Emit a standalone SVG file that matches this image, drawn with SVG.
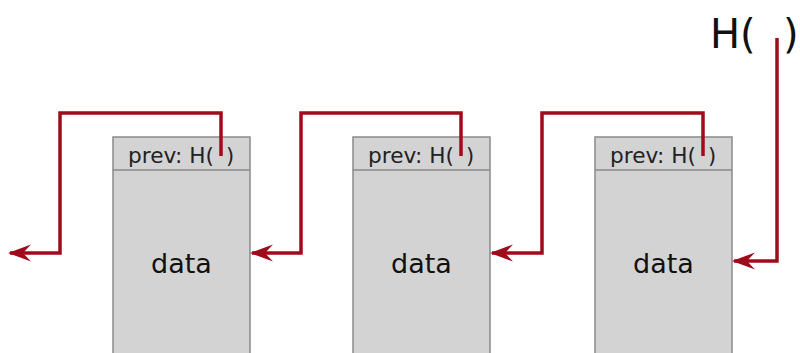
<svg xmlns="http://www.w3.org/2000/svg" width="800" height="353" viewBox="0 0 800 353">
<defs>
<marker id="ah" viewBox="0 0 24 20" refX="22" refY="10" markerWidth="24" markerHeight="20" markerUnits="userSpaceOnUse" orient="auto">
<path d="M24,10 L1,1.5 L9,10 L1,18.5 Z" fill="#9e0c1c"/>
</marker>
</defs>
<style>
.box{fill:#d3d3d3;stroke:#8a8a8a;stroke-width:1.5}
.hd{font-family:"DejaVu Sans",sans-serif;font-size:21px;fill:#222}
.dt{font-family:"DejaVu Sans",sans-serif;font-size:27px;fill:#111;text-anchor:middle}
.c{fill:none;stroke:#9e0c1c;stroke-width:3.5;stroke-linejoin:miter}
</style>
<rect width="800" height="353" fill="#fff"/>
<g id="block1">
<rect class="box" x="113" y="137" width="137" height="230"/>
<line x1="113" y1="170" x2="250" y2="170" stroke="#8a8a8a" stroke-width="1.5"/>
<text class="hd" x="128" y="163" textLength="86" lengthAdjust="spacingAndGlyphs">prev: H(</text>
<text class="hd" x="226" y="163">)</text>
<text class="dt" x="181.5" y="273">data</text>
</g>
<g id="block2">
<rect class="box" x="353" y="137" width="137" height="230"/>
<line x1="353" y1="170" x2="490" y2="170" stroke="#8a8a8a" stroke-width="1.5"/>
<text class="hd" x="368" y="163" textLength="86" lengthAdjust="spacingAndGlyphs">prev: H(</text>
<text class="hd" x="466" y="163">)</text>
<text class="dt" x="421.5" y="273">data</text>
</g>
<g id="block3">
<rect class="box" x="595" y="137" width="137" height="230"/>
<line x1="595" y1="170" x2="732" y2="170" stroke="#8a8a8a" stroke-width="1.5"/>
<text class="hd" x="610" y="163" textLength="86" lengthAdjust="spacingAndGlyphs">prev: H(</text>
<text class="hd" x="708" y="163">)</text>
<text class="dt" x="663.5" y="273">data</text>
</g>
<g id="head">
<text x="710" y="48" font-family="DejaVu Sans, sans-serif" font-size="40" fill="#111">H(</text>
<text x="783" y="48" font-family="DejaVu Sans, sans-serif" font-size="40" fill="#111">)</text>
</g>
<g id="connectors">
<path class="c" d="M221,156 V113 H60 V253 H10" marker-end="url(#ah)"/>
<path class="c" d="M461,156 V113 H301 V253 H252" marker-end="url(#ah)"/>
<path class="c" d="M703,156 V113 H542 V253 H492" marker-end="url(#ah)"/>
<path class="c" d="M777,38 V261 H734" marker-end="url(#ah)"/>
</g>
</svg>
